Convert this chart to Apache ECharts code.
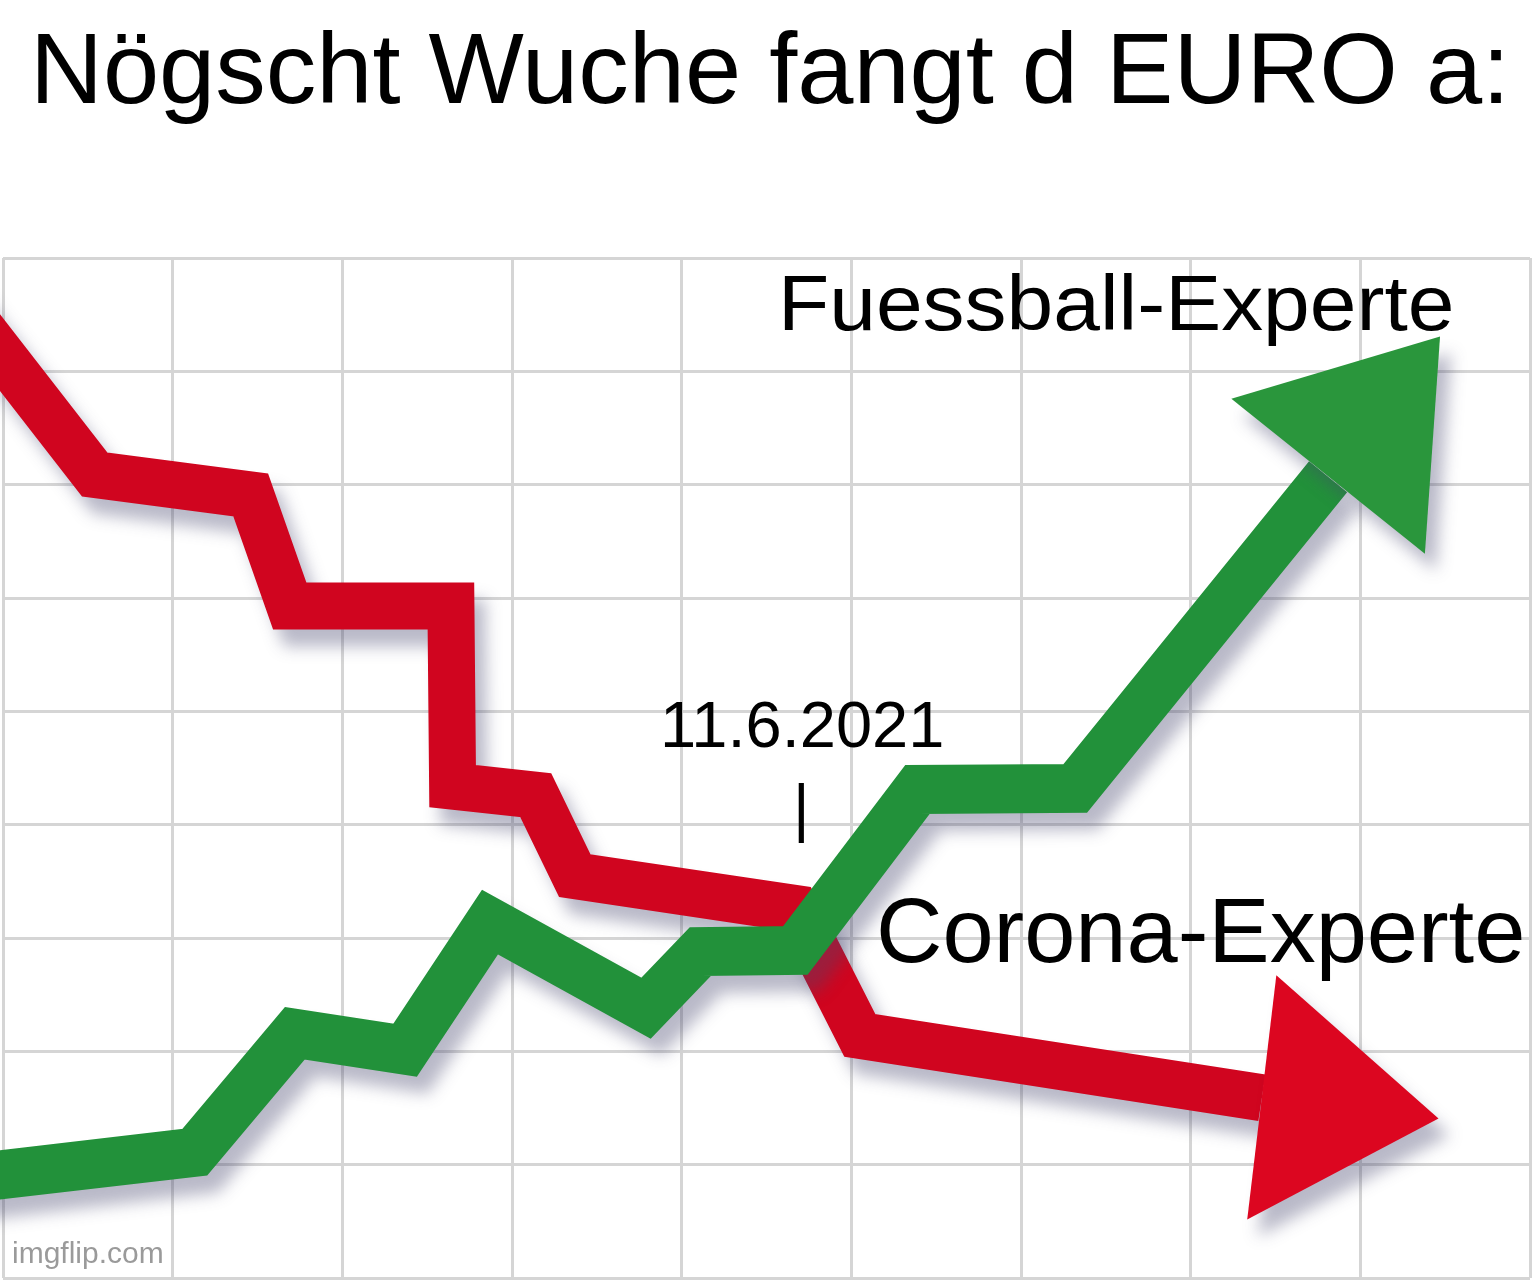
<!DOCTYPE html>
<html>
<head>
<meta charset="utf-8">
<script src="https://cdn.jsdelivr.net/npm/echarts@6/dist/echarts.min.js"></script>
<style>
  html, body { margin: 0; padding: 0; background: #ffffff; }
  #chart { width: 1536px; height: 1280px; }
</style>
</head>
<body>
<div id="chart"></div>
<script>
// ---- data (grid units: x 0..9, y 0..9) ----
const titleText = 'Nögscht Wuche fangt d EURO a:';
const fussballLabel = 'Fuessball-Experte';
const coronaLabel = 'Corona-Experte';
const dateLabel = '11.6.2021';
const watermark = 'imgflip.com';

const xTicks = [0, 1, 2, 3, 4, 5, 6, 7, 8, 9];
const yTicks = [0, 1, 2, 3, 4, 5, 6, 7, 8, 9];

// Corona-Experte (red, falling)
const coronaX = [-0.3, 0.54, 1.46, 1.69, 2.64, 2.65, 3.14, 3.37, 4.67, 5.05, 7.42];
const coronaY = [8.71, 7.09, 6.91, 5.93, 5.93, 4.34, 4.26, 3.55, 3.26, 2.14, 1.59];

// Fuessball-Experte (green, rising)
const fussballX = [-0.3, 1.13, 1.72, 2.37, 2.87, 3.79, 4.11, 4.67, 5.39, 6.32, 7.81];
const fussballY = [0.86, 1.11, 2.16, 2.01, 3.14, 2.38, 2.88, 2.89, 4.31, 4.32, 7.07];

// arrow heads: [x, y, rotation(deg), base width, length]
const coronaArrow = [7.94, 1.50, -96.8, 246, 178];
const fussballArrow = [8.14, 7.69, -38.7, 248, 179];

const RED = '#d0051f';
const GREEN = '#22913a';

function pairs(xs, ys) { return xs.map((x, i) => [x, ys[i]]); }

const shadow = {
  shadowColor: 'rgba(70,70,110,0.38)',
  shadowBlur: 16,
  shadowOffsetX: 11,
  shadowOffsetY: 17
};

const chart = echarts.init(document.getElementById('chart'), null, { renderer: 'canvas' });

const axisCommon = {
  type: 'value',
  interval: 1,
  axisLine: { show: false },
  axisTick: { show: false },
  axisLabel: { show: false },
  splitLine: { show: true, lineStyle: { color: '#d5d5d5', width: 3 } }
};

const font = "'Liberation Sans', Arial, Helvetica, sans-serif";

chart.setOption({
  backgroundColor: '#ffffff',
  animation: false,
  grid: { left: 3, right: 6, top: 258, bottom: 2 },
  xAxis: Object.assign({}, axisCommon, { min: xTicks[0], max: xTicks[xTicks.length - 1] }),
  yAxis: Object.assign({}, axisCommon, { min: yTicks[0], max: yTicks[yTicks.length - 1] }),
  series: [
    {
      name: coronaLabel,
      type: 'line',
      data: pairs(coronaX, coronaY),
      symbol: 'none',
      clip: true,
      z: 2,
      lineStyle: Object.assign({ color: RED, width: 47, join: 'miter', miterLimit: 10, cap: 'butt' }, shadow)
    },
    {
      name: coronaLabel + ' arrow',
      type: 'scatter',
      data: [[coronaArrow[0], coronaArrow[1]]],
      symbol: 'triangle',
      symbolRotate: coronaArrow[2],
      symbolSize: [coronaArrow[3], coronaArrow[4]],
      z: 2,
      itemStyle: Object.assign({ color: '#dc0620', opacity: 1 }, shadow)
    },
    {
      name: fussballLabel,
      type: 'line',
      data: pairs(fussballX, fussballY),
      symbol: 'none',
      clip: true,
      z: 3,
      lineStyle: Object.assign({ color: GREEN, width: 49, join: 'miter', miterLimit: 10, cap: 'butt' }, shadow)
    },
    {
      name: fussballLabel + ' arrow',
      type: 'scatter',
      data: [[fussballArrow[0], fussballArrow[1]]],
      symbol: 'triangle',
      symbolRotate: fussballArrow[2],
      symbolSize: [fussballArrow[3], fussballArrow[4]],
      z: 3,
      itemStyle: Object.assign({ color: '#2a963c', opacity: 1 }, shadow)
    }
  ],
  graphic: [
    { type: 'text', left: 30, top: 25, z: 10,
      style: { text: titleText, font: "101px " + font, fill: '#000' } },
    { type: 'text', x: 778, y: 270, scaleX: 1.09, z: 10,
      style: { text: fussballLabel, font: "77px " + font, fill: '#000' } },
    { type: 'text', x: 876, y: 892, scaleX: 1.022, z: 10,
      style: { text: coronaLabel, font: "90px " + font, fill: '#000' } },
    { type: 'text', left: 660, top: 697, z: 10,
      style: { text: dateLabel, font: "65px " + font, fill: '#000' } },
    { type: 'text', left: 793, top: 780, z: 10,
      style: { text: '|', font: "64px " + font, fill: '#000' } },
    { type: 'text', left: 12, top: 1240, z: 10,
      style: { text: watermark, font: "30px " + font, fill: 'rgba(120,120,120,0.75)' } }
  ]
});
</script>
</body>
</html>
